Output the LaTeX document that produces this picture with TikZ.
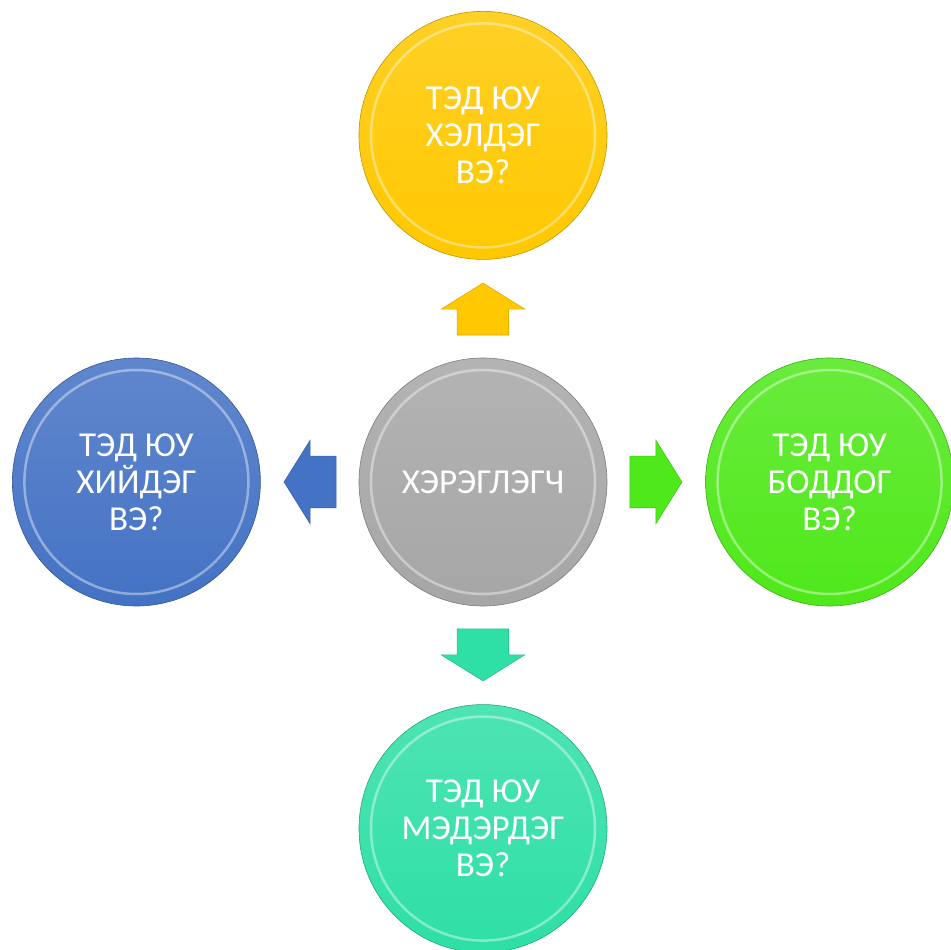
\documentclass[tikz,border=0pt]{standalone}
\usepackage{fontspec}
\setmainfont{Carlito}
\usepackage{xcolor}
\definecolor{cyellow}{HTML}{FFC800}
\definecolor{cgray}{HTML}{A6A6A6}
\definecolor{cblue}{HTML}{4472C4}
\definecolor{cgreen}{HTML}{4FE81A}
\definecolor{cteal}{HTML}{2EDFA6}
\usetikzlibrary{positioning,shapes.arrows,calc}

\begin{document}
\begin{tikzpicture}[node distance=98pt]
\tikzset{
 c/.style={circle,minimum size=248pt,inner sep=0pt,align=center,text=white,
   font=\fontsize{35}{37}\selectfont,draw=#1!75!black,line width=0.6pt,
   top color=#1!85!white,bottom color=#1,
   path picture={\draw[white,opacity=.4,line width=2.5pt] (path picture bounding box.center) circle (112pt);}},
 a/.style={single arrow,fill=#1,draw=#1!85!black,line width=0.6pt,inner xsep=0pt,inner ysep=25.5pt,
   minimum height=52pt,single arrow head extend=16pt,single arrow tip angle=116,anchor=tip}
}
\useasboundingbox (-483pt,-468pt) rectangle (468pt,482pt);
\node[c=cgray] (c0) at (0,0) {ХЭРЭГЛЭГЧ};
\node[c=cyellow,above=of c0] (c1) {ТЭД ЮУ\\ХЭЛДЭГ\\ВЭ?};
\node[c=cblue,left=of c0] (c2) {ТЭД ЮУ\\ХИЙДЭГ\\ВЭ?};
\node[c=cgreen,right=of c0] (c3) {ТЭД ЮУ\\БОДДОГ\\ВЭ?};
\node[c=cteal,below=of c0] (c4) {ТЭД ЮУ\\МЭДЭРДЭГ\\ВЭ?};
\foreach \i/\col/\r in {c1/cyellow/90,c2/cblue/180,c3/cgreen/0,c4/cteal/-90}{
  \node[a=\col,rotate=\r] (a-\i) at ($(c0)!.5!(\i)!26pt!(\i)$) {};
}
\end{tikzpicture}
\end{document}
